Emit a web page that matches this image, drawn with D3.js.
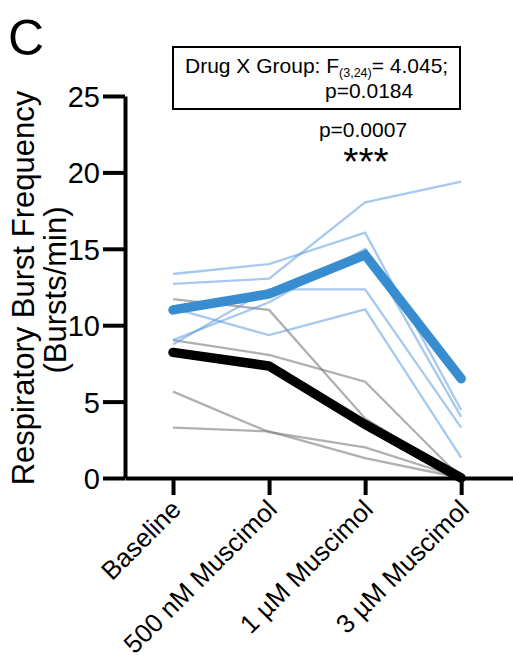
<!DOCTYPE html>
<html>
<head>
<meta charset="utf-8">
<script src="https://cdn.jsdelivr.net/npm/d3@7"></script>
<style>
  body { margin: 0; background: #fff; }
  svg { display: block; font-family: "Liberation Sans", Arial, sans-serif; }
</style>
</head>
<body>
<div id="chart"></div>
<script>
//-- Data
var categories = ["Baseline", "500 nM Muscimol", "1 \u00B5M Muscimol", "3 \u00B5M Muscimol"];
var yTicks = [0, 5, 10, 15, 20, 25];

// drug group, single animals (thin blue)
var drugAnimals = [
  [13.35, 14.0, 16.05, 4.45],
  [12.7, 13.05, 18.04, 19.4],
  [11.1, 9.35, 11.04, 1.33],
  [8.75, 12.35, 12.35, 3.3],
  [9.03, 11.5, 15.0, 4.0]
];
var drugMean = [11.0, 12.05, 14.6, 6.5];

// vehicle group, single animals (thin grey)
var vehicleAnimals = [
  [11.7, 11.0, 3.9, 0],
  [9.03, 8.05, 6.3, 0],
  [5.65, 3.0, 2.0, 0],
  [3.3, 3.05, 1.3, 0]
];
var vehicleMean = [8.22, 7.33, 3.5, 0];

var statsLine1 = "Drug X Group: F";
var statsSub = "(3,24)";
var statsLine1b = "= 4.045;";
var statsLine2 = "p=0.0184";
var postHocP = "p=0.0007";
var postHocStars = "***";

//-- Dimension
var totWidth = 513;
var totHeight = 662;

var svg = d3.select("#chart")
  .append("svg")
    .attr("width", totWidth)
    .attr("height", totHeight);

//-- Scales
var x = d3.scaleLinear()
  .domain([-0.5, 3.55])
  .range([125, 514]);

var y = d3.scaleLinear()
  .domain([0, 25])
  .range([478, 96]);

//-- Lines
var line = d3.line()
  .x(function(d, i) { return x(i); })
  .y(function(d) { return y(d); });

svg.append("g")
  .selectAll("path")
  .data(vehicleAnimals)
  .enter().append("path")
    .attr("d", line)
    .attr("fill", "none")
    .attr("stroke", "#808080")
    .attr("stroke-opacity", 0.62)
    .attr("stroke-width", 2.3);

svg.append("g")
  .selectAll("path")
  .data(drugAnimals)
  .enter().append("path")
    .attr("d", line)
    .attr("fill", "none")
    .attr("stroke", "#4f93dc")
    .attr("stroke-opacity", 0.5)
    .attr("stroke-width", 2.3);

svg.append("path")
  .datum(vehicleMean)
  .attr("d", line)
  .attr("fill", "none")
  .attr("stroke", "#000")
  .attr("stroke-width", 9.5)
  .attr("stroke-linecap", "round");

svg.append("path")
  .datum(drugMean)
  .attr("d", line)
  .attr("fill", "none")
  .attr("stroke", "#378dcf")
  .attr("stroke-width", 9.5)
  .attr("stroke-linecap", "round");

//-- Axes
var yAxis = d3.axisLeft(y)
  .tickValues(yTicks)
  .tickSize(22)
  .tickSizeOuter(0)
  .tickPadding(3);

var gy = svg.append("g")
  .attr("transform", "translate(" + x(-0.5) + ",0)")
  .call(yAxis);

var xAxis = d3.axisBottom(x)
  .tickValues([0, 1, 2, 3])
  .tickSize(17)
  .tickSizeOuter(0)
  .tickFormat(function(d) { return categories[d]; });

var gx = svg.append("g")
  .attr("transform", "translate(0," + y(0) + ")")
  .call(xAxis);

[gy, gx].forEach(function(g) {
  g.select(".domain").attr("stroke", "#000").attr("stroke-width", 4);
  g.selectAll(".tick line").attr("stroke", "#000").attr("stroke-width", 4);
  g.selectAll("text").attr("fill", "#000").attr("font-family", "Liberation Sans, Arial, sans-serif");
});

gy.selectAll("text")
  .attr("font-size", 29)
  .attr("dy", "0.36em");

gx.selectAll("text")
  .attr("font-size", 26)
  .attr("x", 0)
  .attr("y", 0)
  .attr("dy", 0)
  .attr("transform", "translate(9,33) rotate(-45)")
  .style("text-anchor", "end");

//-- Y label
svg.append("text")
  .attr("transform", "translate(34,288) rotate(-90)")
  .attr("text-anchor", "middle")
  .attr("font-size", 31)
  .text("Respiratory Burst Frequency");

svg.append("text")
  .attr("transform", "translate(66,290) rotate(-90)")
  .attr("text-anchor", "middle")
  .attr("font-size", 31)
  .text("(Bursts/min)");

//-- Panel letter
svg.append("text")
  .attr("x", 8)
  .attr("y", 55)
  .attr("font-size", 50)
  .text("C");

//-- Stats box
svg.append("rect")
  .attr("x", 173)
  .attr("y", 47)
  .attr("width", 287)
  .attr("height", 62)
  .attr("fill", "none")
  .attr("stroke", "#000")
  .attr("stroke-width", 2);

var st = svg.append("text")
  .attr("x", 185)
  .attr("y", 73)
  .attr("font-size", 21);
st.append("tspan").text(statsLine1);
st.append("tspan")
  .attr("font-size", 12.5)
  .attr("dy", 4)
  .text(statsSub);
st.append("tspan")
  .attr("dy", -4)
  .text(statsLine1b);

svg.append("text")
  .attr("x", 325)
  .attr("y", 98)
  .attr("font-size", 21)
  .text(statsLine2);

svg.append("text")
  .attr("x", 363)
  .attr("y", 137)
  .attr("text-anchor", "middle")
  .attr("font-size", 21)
  .text(postHocP);

svg.append("text")
  .attr("x", 366)
  .attr("y", 175)
  .attr("text-anchor", "middle")
  .attr("font-size", 39)
  .text(postHocStars);
</script>
</body>
</html>
